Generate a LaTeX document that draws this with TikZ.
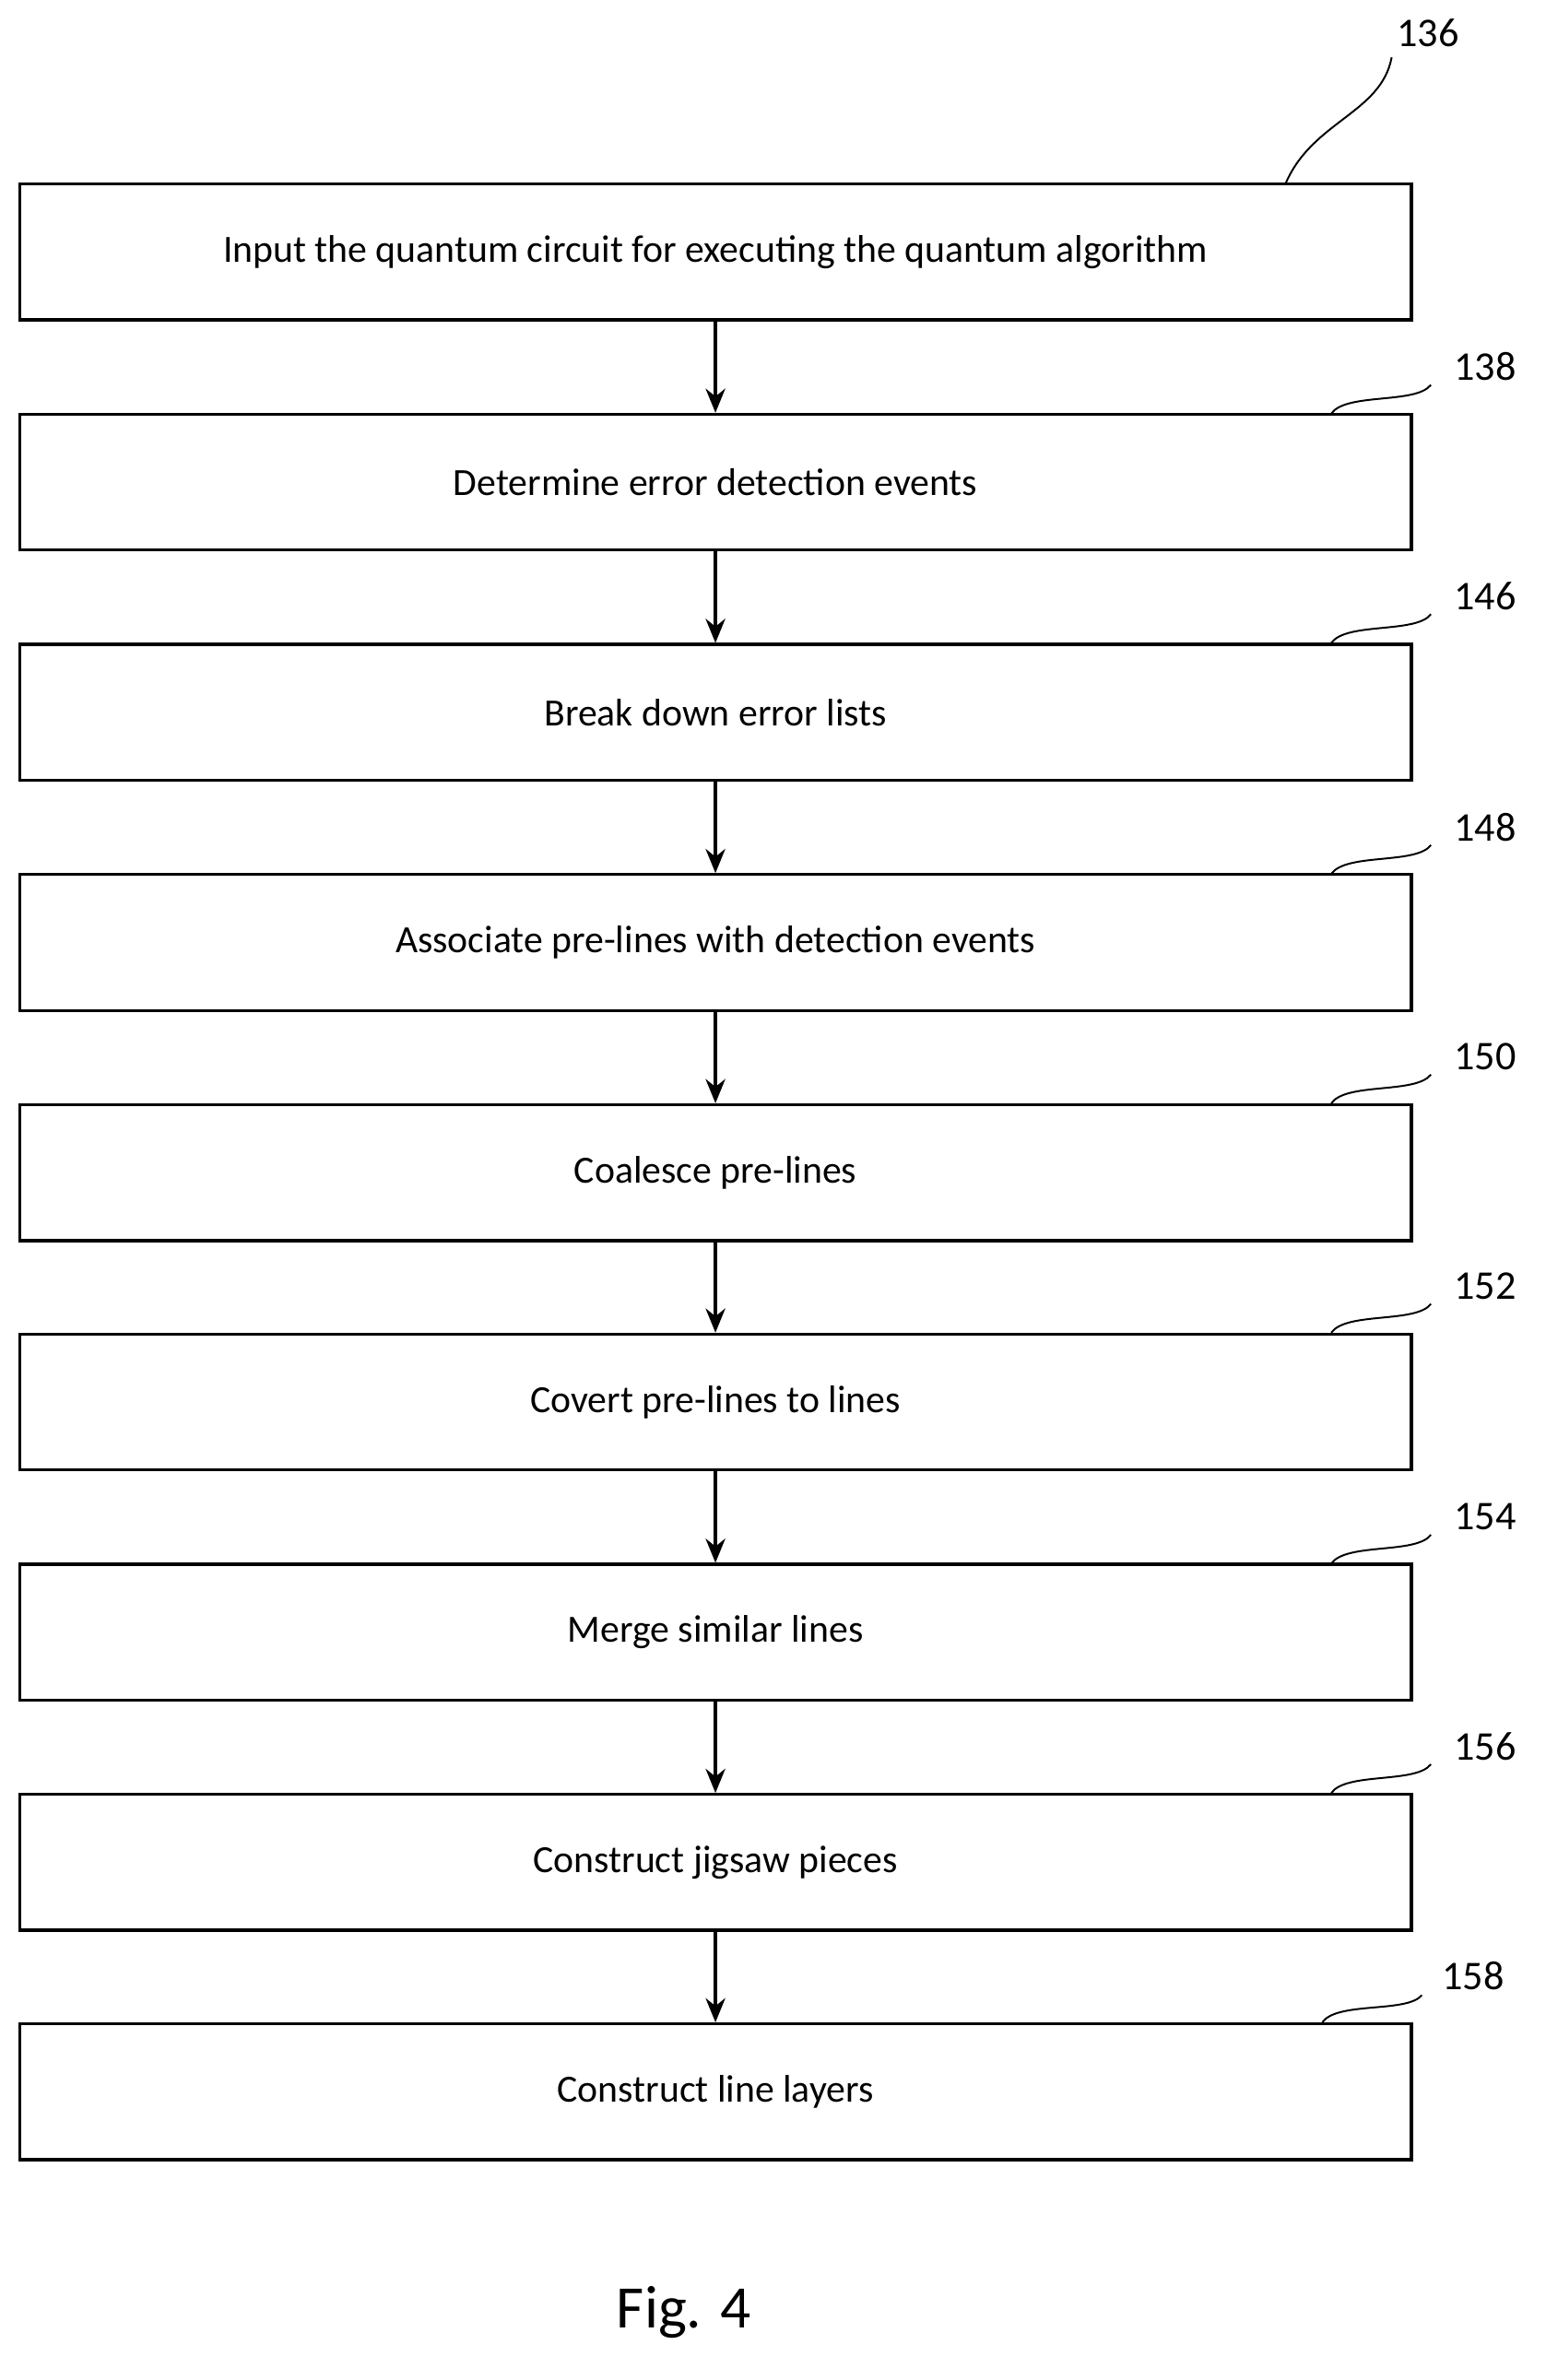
\documentclass[tikz,border=0pt]{standalone}
\usepackage{fontspec}
\setmainfont{Carlito}
\usetikzlibrary{arrows.meta}
\begin{document}
\begin{tikzpicture}[x=1pt,y=-1pt,
  box/.style={draw,line width=2pt,minimum width=922pt,minimum height=90pt,inner sep=0pt,font=\fontsize{25.5}{30}\selectfont},
  arr/.style={line width=2pt,-{Stealth[length=16pt,width=13pt]}},
  lead/.style={line width=1.2pt},
  lab/.style={font=\fontsize{27}{32}\selectfont}]
\useasboundingbox (0,0) rectangle (1024,1577);
\node[box] (b1) at (474,167) {Input the quantum circuit for executing the quantum algorithm};
\node[box] (b2) at (474,319.5) {Determine error detection events};
\node[box] (b3) at (474,472) {Break down error lists};
\node[box] (b4) at (474,624.5) {Associate pre-lines with detection events};
\node[box] (b5) at (474,777) {Coalesce pre-lines};
\node[box] (b6) at (474,929) {Covert pre-lines to lines};
\node[box] (b7) at (474,1081.5) {Merge similar lines};
\node[box] (b8) at (474,1234) {Construct jigsaw pieces};
\node[box] (b9) at (474,1386) {Construct line layers};
\foreach \a/\b in {b1/b2,b2/b3,b3/b4,b4/b5,b5/b6,b6/b7,b7/b8,b8/b9}
  \draw[arr] (\a.south) -- (\b.north);
\node[lab] (l1) at (946,22) {136};
\coordinate (c1) at (852,121);
\draw[lead] (c1) .. controls (870,80) and (915,75) .. (922,38);
\foreach \n/\y/\t in {2/274/138,3/426/146,4/579/148,5/731/150,6/883/152,7/1036/154,8/1188/156}{
  \node[lab] (l\n) at (984,\y-31) {\t};
  \coordinate (c\n) at (882,\y);
  \draw[lead] (c\n) .. controls (892,\y-14) and (938,\y-6) .. (948,\y-19);
}
\node[lab] (l9) at (976,1309) {158};
\coordinate (c9) at (876,1340);
\draw[lead] (c9) .. controls (886,1326) and (932,1334) .. (942,1322);
\node[font=\fontsize{40}{46}\selectfont] (fig) at (453,1532) {Fig. 4};
\end{tikzpicture}
\end{document}
